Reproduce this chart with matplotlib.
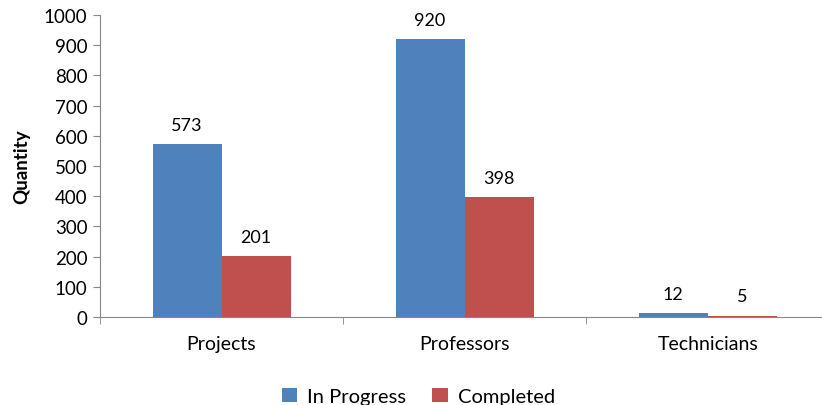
import numpy as np
import matplotlib.pyplot as plt

# Chart data
categories = ['Projects', 'Professors', 'Technicians']
in_progress = [573, 920, 12]
completed = [201, 398, 5]
y_ticks = [0, 100, 200, 300, 400, 500, 600, 700, 800, 900, 1000]

plt.rcParams['font.family'] = ['Lato', 'DejaVu Sans']

fig = plt.figure(figsize=(8.22, 4.06), dpi=100)
ax = fig.add_axes([0.1217, 0.2167, 0.887, 0.7439])

x = np.arange(len(categories))
width = 0.284
bars1 = ax.bar(x - width / 2, in_progress, width, color='#4F81BD', label='In Progress')
bars2 = ax.bar(x + width / 2, completed, width, color='#C0504D', label='Completed')

# Value labels above each bar
for bars in (bars1, bars2):
    for b in bars:
        ax.annotate(str(int(b.get_height())), (b.get_x() + b.get_width() / 2, b.get_height()),
                    xytext=(0, 8), textcoords='offset points', ha='center', va='bottom',
                    fontsize=13, color='#000000')

ax.set_xlim(-0.5, 2.5)
ax.set_ylim(0, 1000)
ax.set_yticks(y_ticks)
ax.set_xticks(x)
ax.set_xticklabels(categories, fontsize=14)
ax.set_xticks([-0.5, 0.5, 1.5, 2.5], minor=True)
ax.tick_params(axis='x', which='major', length=0, pad=13)
ax.tick_params(axis='x', which='minor', length=5, color='#868686', direction='out')
ax.tick_params(axis='y', length=5, color='#868686', labelsize=13.5, pad=4)
ax.set_ylabel('Quantity', fontsize=13.5, fontweight='bold', labelpad=10)

for s in ['top', 'right']:
    ax.spines[s].set_visible(False)
for s in ['left', 'bottom']:
    ax.spines[s].set_color('#868686')

fig.legend(loc='lower center', ncol=2, frameon=False, fontsize=14.5,
           bbox_to_anchor=(0.509, -0.045), handlelength=0.75, handleheight=0.75,
           columnspacing=1.3, handletextpad=0.5)

fig.savefig('out.png', dpi=100)
